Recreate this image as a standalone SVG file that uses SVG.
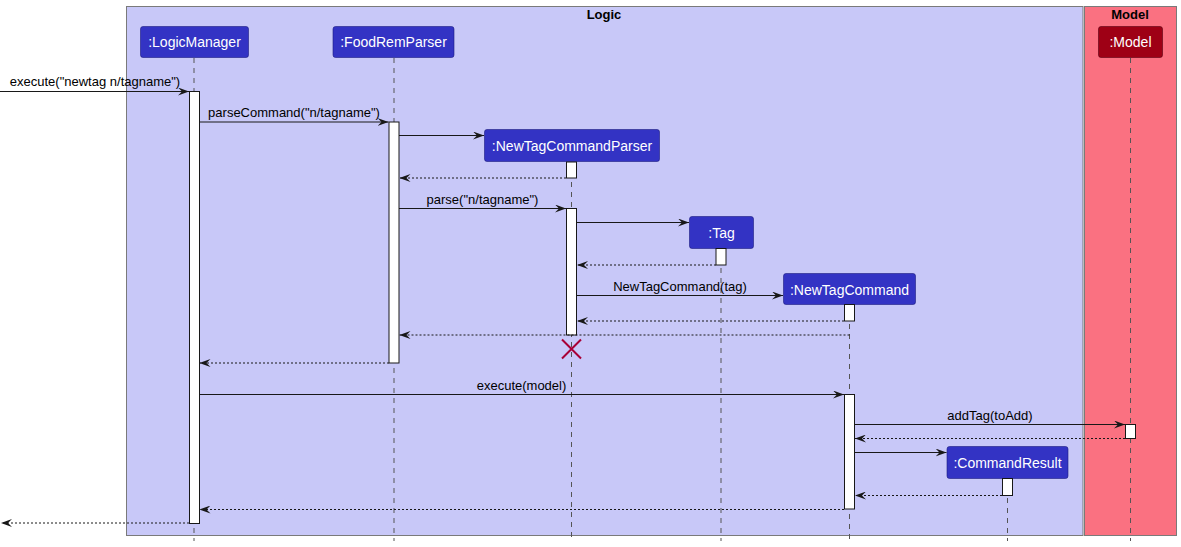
<svg xmlns="http://www.w3.org/2000/svg" width="1181" height="547" viewBox="0 0 1181 547">
<style>
.box{stroke:#7a7a7a;stroke-width:1}
.title{font-family:"Liberation Sans",Arial,sans-serif;font-size:13px;font-weight:bold;fill:#000;text-anchor:middle}
.p{fill:#3333C4;stroke:#1c1c80;stroke-width:0.6}
.pm{fill:#9E0015;stroke:#5a0010;stroke-width:0.6}
.pt{font-family:"Liberation Sans",Arial,sans-serif;font-size:14px;fill:#fff;text-anchor:middle}
.life{stroke:#555;stroke-width:1;stroke-dasharray:5,5;fill:none}
.act{fill:#fff;stroke:#181818;stroke-width:1}
.msg{stroke:#181818;stroke-width:1;fill:none;marker-end:url(#ah)}
.ret{stroke:#181818;stroke-width:1;stroke-dasharray:2,2;fill:none;marker-end:url(#ah)}
.lbl{font-family:"Liberation Sans",Arial,sans-serif;font-size:13px;fill:#000;text-anchor:middle}
</style>
<defs>
<marker id="ah" markerUnits="userSpaceOnUse" viewBox="0 0 11 8" refX="11" refY="4" markerWidth="11" markerHeight="8" orient="auto">
<path d="M0,0 L11,4 L0,8 L4,4 Z" fill="#181818"/>
</marker>
</defs>
<rect width="1181" height="547" fill="#fff"/>
<g id="box-logic">
<rect class="box" x="126.5" y="6.5" width="956.5" height="529" fill="#C8C8F8"/>
<text class="title" x="604" y="19">Logic</text>
</g>
<g id="box-model">
<rect class="box" x="1084.5" y="6.5" width="92" height="529" fill="#FA7181"/>
<text class="title" x="1130" y="19">Model</text>
</g>
<g id="lifelines">
<line class="life" x1="194" y1="58" x2="194" y2="541"/>
<line class="life" x1="394" y1="58" x2="394" y2="541"/>
<line class="life" x1="571.5" y1="162" x2="571.5" y2="541"/>
<line class="life" x1="721" y1="248" x2="721" y2="541"/>
<line class="life" x1="849.5" y1="304" x2="849.5" y2="541"/>
<line class="life" x1="1007.5" y1="478" x2="1007.5" y2="541"/>
<line class="life" x1="1130.5" y1="58" x2="1130.5" y2="541"/>
</g>
<g id="LogicManager">
<rect class="p" x="140.5" y="26.5" width="108" height="31" rx="2.5"/>
<text class="pt" x="194.5" y="47">:LogicManager</text>
<rect class="act" x="189.5" y="91.5" width="10" height="432"/>
</g>
<g id="FoodRemParser">
<rect class="p" x="333" y="26.5" width="121" height="31" rx="2.5"/>
<text class="pt" x="393.5" y="47">:FoodRemParser</text>
<rect class="act" x="389" y="122" width="10" height="241"/>
</g>
<g id="NewTagCommandParser">
<rect class="p" x="484.5" y="129.5" width="175" height="32" rx="2.5"/>
<text class="pt" x="572" y="151">:NewTagCommandParser</text>
<rect class="act" x="566.5" y="162" width="10" height="16"/>
<rect class="act" x="566.5" y="208.5" width="10" height="126.5"/>
<path d="M562,339.5 L581,358.5 M581,339.5 L562,358.5" stroke="#A80036" stroke-width="2" fill="none"/>
</g>
<g id="Tag">
<rect class="p" x="689.5" y="216.5" width="64" height="32" rx="2.5"/>
<text class="pt" x="721.5" y="238">:Tag</text>
<rect class="act" x="716" y="248.5" width="10" height="16.5"/>
</g>
<g id="NewTagCommand">
<rect class="p" x="783.5" y="273.5" width="132" height="31" rx="2.5"/>
<text class="pt" x="849.5" y="295">:NewTagCommand</text>
<rect class="act" x="844.5" y="304.5" width="10" height="16.5"/>
<rect class="act" x="844.5" y="394.5" width="10" height="114.5"/>
</g>
<g id="CommandResult">
<rect class="p" x="947" y="446.5" width="121" height="32" rx="2.5"/>
<text class="pt" x="1007.5" y="468">:CommandResult</text>
<rect class="act" x="1002.5" y="478.5" width="10" height="17"/>
</g>
<g id="Model">
<rect class="pm" x="1098.5" y="26.5" width="64" height="31" rx="2.5"/>
<text class="pt" x="1130.5" y="47">:Model</text>
<rect class="act" x="1125.5" y="424.5" width="10" height="14"/>
</g>
<g id="connectors">
<line class="msg" x1="0" y1="91.5" x2="189" y2="91.5"/>
<text class="lbl" x="95" y="86">execute("newtag n/tagname")</text>
<line class="msg" x1="199.5" y1="122" x2="388.5" y2="122"/>
<text class="lbl" x="294" y="117">parseCommand("n/tagname")</text>
<line class="msg" x1="399" y1="135.5" x2="484" y2="135.5"/>
<line class="ret" x1="566" y1="178" x2="399.5" y2="178"/>
<line class="msg" x1="399" y1="208.5" x2="566" y2="208.5"/>
<text class="lbl" x="482.5" y="203.5">parse("n/tagname")</text>
<line class="msg" x1="577" y1="222.5" x2="689" y2="222.5"/>
<line class="ret" x1="716" y1="265" x2="577" y2="265"/>
<line class="msg" x1="577" y1="295.5" x2="783" y2="295.5"/>
<text class="lbl" x="680" y="290.5">NewTagCommand(tag)</text>
<line class="ret" x1="844" y1="321" x2="577" y2="321"/>
<line class="ret" x1="849.5" y1="335" x2="399.5" y2="335"/>
<line class="ret" x1="389" y1="363" x2="199.5" y2="363"/>
<line class="msg" x1="199.5" y1="394.5" x2="844" y2="394.5"/>
<text class="lbl" x="521.5" y="389.5">execute(model)</text>
<line class="msg" x1="855" y1="424.5" x2="1125" y2="424.5"/>
<text class="lbl" x="990" y="419.5">addTag(toAdd)</text>
<line class="ret" x1="1125" y1="438.5" x2="855" y2="438.5"/>
<line class="msg" x1="855" y1="452.5" x2="946.5" y2="452.5"/>
<line class="ret" x1="1002" y1="495.5" x2="855" y2="495.5"/>
<line class="ret" x1="844" y1="509.5" x2="199.5" y2="509.5"/>
<line class="ret" x1="189" y1="523" x2="1" y2="523"/>
</g>
</svg>
